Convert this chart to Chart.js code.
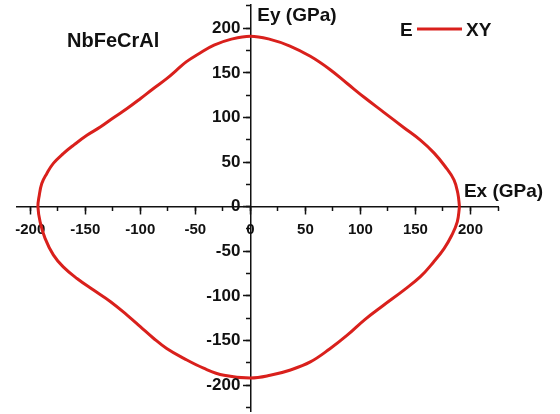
<!DOCTYPE html>
<html>
<head>
<meta charset="utf-8">
<script src="https://cdn.jsdelivr.net/npm/chart.js@4"></script>
<style>
  html, body { margin: 0; padding: 0; background: #fff; }
</style>
</head>
<body>
<canvas id="eChart" width="560" height="414"></canvas>
<script>
// Young's modulus in the XY plane (GPa), traced counter-clockwise
const exValues = [
  190, 188.5, 185, 177, 167, 154.5, 139, 121, 104, 88, 72, 54.5, 36, 18, 0,
  -18, -33, -46, -58, -67, -76, -88, -100, -112, -124, -136, -148.5, -160.5, -170, -179, -185, -189.5, -192, -193,
  -191, -186.5, -179, -170, -157.5, -142.5, -127, -112, -100, -88, -76, -60.5, -42.5, -24, 0,
  18, 36.5, 54.5, 72, 88, 104, 121, 139.5, 154.5, 166.5, 176, 183, 188, 190
]
const eyValues = [
  0, 15, 30, 45, 60, 74.5, 89, 106, 122, 138, 154, 168.5, 180, 187.5, 191,
  187.5, 181, 172, 162.5, 153, 143.5, 132.5, 121, 110, 100, 89.5, 80, 69, 59.5, 48.5, 37, 26, 11, 0,
  -17, -35.5, -54, -67.5, -80.5, -93.5, -106.5, -121.5, -134.5, -147.5, -159, -170, -181, -189, -192,
  -189, -183, -174, -159.5, -144, -126.5, -110.5, -93.5, -78.5, -62, -47, -32, -17, 0
]
const majorStep = 50
const minorStep = 25

const points = exValues.map((x, i) => ({ x: x, y: eyValues[i] }))
const red = '#d9201c'
const ink = '#111'
const fontFamily = '"Liberation Sans", Arial, sans-serif'

const textPlugin = {
  id: 'texts',
  afterDraw(chart) {
    const ctx = chart.ctx
    const xs = chart.scales.x
    const ys = chart.scales.y
    const x0 = xs.getPixelForValue(0)
    const y0 = ys.getPixelForValue(0)
    ctx.save()
    ctx.fillStyle = ink
    // y tick labels, left of the centred axis
    ctx.font = 'bold 17px ' + fontFamily
    ctx.textAlign = 'right'
    ctx.textBaseline = 'middle'
    ys.ticks.forEach(t => {
      ctx.fillText(String(t.value), x0 - 10, ys.getPixelForValue(t.value))
    })
    ctx.textBaseline = 'alphabetic'
    ctx.textAlign = 'left'
    ctx.font = 'bold 19px ' + fontFamily
    ctx.fillText('Ey (GPa)', x0 + 7, 21)
    ctx.fillText('Ex (GPa)', xs.getPixelForValue(194), y0 - 10)
    // legend
    ctx.fillText('E', 400, 36)
    ctx.fillText('XY', 466, 36)
    ctx.strokeStyle = red
    ctx.lineWidth = 3
    ctx.beginPath()
    ctx.moveTo(417, 29)
    ctx.lineTo(462, 29)
    ctx.stroke()
    ctx.font = 'bold 20px ' + fontFamily
    ctx.fillText('NbFeCrAl', 67, 47)
    ctx.restore()
  }
}

new Chart(document.getElementById('eChart'), {
  type: 'scatter',
  data: {
    datasets: [{
      label: 'XY',
      data: points,
      showLine: true,
      borderColor: red,
      borderWidth: 3,
      pointRadius: 0,
      tension: 0.4,
      fill: false,
      clip: false
    }]
  },
  options: {
    responsive: false,
    animation: false,
    layout: { padding: { left: 17, right: 62, top: 5, bottom: 3 } },
    plugins: {
      legend: { display: false },
      tooltip: { enabled: false }
    },
    scales: {
      x: {
        type: 'linear',
        position: { y: 0 },
        min: -212,
        max: 225,
        ticks: {
          stepSize: majorStep,
          includeBounds: false,
          autoSkip: false,
          maxRotation: 0,
          padding: 7,
          color: ink,
          font: { family: fontFamily, size: 15, weight: 'bold' }
        },
        grid: { drawOnChartArea: false, tickLength: 7, tickColor: ink, tickWidth: 1.5 },
        border: { color: ink, width: 1.5 }
      },
      x2: {
        type: 'linear',
        axis: 'x',
        position: { y: 0 },
        min: -212,
        max: 225,
        ticks: { stepSize: minorStep, includeBounds: false, display: false },
        grid: { drawOnChartArea: false, tickLength: 4, tickColor: ink, tickWidth: 1.5 },
        border: { display: false }
      },
      y: {
        type: 'linear',
        position: { x: 0 },
        min: -229,
        max: 226,
        ticks: { stepSize: majorStep, includeBounds: false, display: false },
        grid: { drawOnChartArea: false, tickLength: 7, tickColor: ink, tickWidth: 1.5 },
        border: { color: ink, width: 1.5 }
      },
      y2: {
        type: 'linear',
        axis: 'y',
        position: { x: 0 },
        min: -229,
        max: 226,
        ticks: { stepSize: minorStep, includeBounds: false, display: false },
        grid: { drawOnChartArea: false, tickLength: 4, tickColor: ink, tickWidth: 1.5 },
        border: { display: false }
      }
    }
  },
  plugins: [textPlugin]
})
</script>
</body>
</html>
